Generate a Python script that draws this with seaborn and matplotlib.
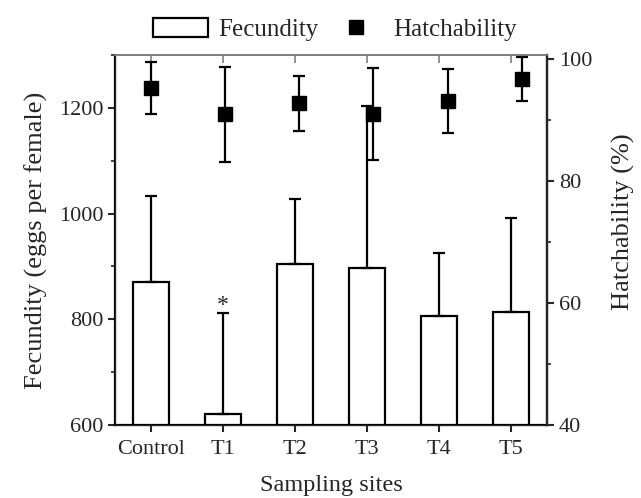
import numpy as np
import pandas as pd
import matplotlib
matplotlib.use("Agg")
import matplotlib.pyplot as plt
import seaborn as sns
from matplotlib.patches import Patch
from matplotlib.lines import Line2D
from matplotlib.ticker import MultipleLocator

sites = ["Control", "T1", "T2", "T3", "T4", "T5"]
fecundity = [871, 621, 904, 897, 806, 813]
fecundity_err = [163, 190, 123, 307, 120, 178]
hatchability = [95.2, 90.9, 92.7, 90.9, 93.1, 96.6]
hatchability_err = [4.3, 7.8, 4.5, 7.5, 5.2, 3.6]

sns.set_style("ticks")
plt.rcParams["font.family"] = ["Liberation Serif", "DejaVu Serif"]
plt.rcParams["font.size"] = 16

df = pd.DataFrame({"site": sites, "fec": fecundity})

fig = plt.figure(figsize=(6.41, 4.98), dpi=100)
ax = fig.add_axes([0.1794, 0.1466, 0.6740, 0.7430])

sns.barplot(data=df, x="site", y="fec", ax=ax, color="white", edgecolor="black",
            linewidth=1.6, width=0.5, saturation=1)
x = np.arange(len(sites))
ax.errorbar(x, fecundity, yerr=[np.zeros(len(sites)), fecundity_err], fmt="none",
            ecolor="black", elinewidth=1.6, capsize=4, capthick=1.6, zorder=3)
ax.text(1, fecundity[1] + fecundity_err[1] - 4, "*", ha="center", va="bottom", fontsize=17)

ax.set_ylim(600, 1300)
ax.set_xlim(-0.5, 5.5)
ax.yaxis.set_major_locator(MultipleLocator(200))
ax.yaxis.set_minor_locator(MultipleLocator(100))
ax.set_xlabel("Sampling sites", fontsize=17.5, labelpad=11)
ax.set_ylabel("Fecundity (eggs per female)", fontsize=19, labelpad=8)
ax.tick_params(axis="y", which="major", direction="out", length=5, width=1.5, labelsize=16)
ax.tick_params(axis="y", which="minor", direction="out", length=3, width=1.2)
ax.tick_params(axis="x", which="major", direction="out", length=5, width=1.5, labelsize=16,
               top=False, pad=6)
for s in ["left", "bottom", "right"]:
    ax.spines[s].set_linewidth(1.6)
    ax.spines[s].set_color("black")
ax.spines["top"].set_visible(True)
ax.spines["top"].set_color("#808080")
ax.spines["top"].set_linewidth(1.2)

ax2 = ax.twinx()
hx = x * 1.03
ax2.errorbar(hx, hatchability, yerr=hatchability_err, fmt="s", color="black",
             markersize=10.5, ecolor="black", elinewidth=1.6, capsize=4, capthick=1.6)
ax2.set_ylim(40, 100.6)
ax2.yaxis.set_major_locator(MultipleLocator(20))
ax2.yaxis.set_minor_locator(MultipleLocator(10))
ax2.set_ylabel("Hatchability (%)", fontsize=19)
ax2.yaxis.set_label_coords(1.15, 0.55)
ax2.tick_params(axis="y", which="major", direction="out", length=5, width=1.5, labelsize=16)
ax2.tick_params(axis="y", which="minor", direction="out", length=3, width=1.2)
ax2.spines["right"].set_linewidth(1.6)
ax2.spines["top"].set_color("#808080")
ax2.spines["top"].set_linewidth(1.2)

sec = ax.secondary_xaxis("top")
sec.set_xticks(x)
sec.tick_params(direction="in", length=6, width=1.2, color="#808080", labeltop=False)
sec.spines["top"].set_color("#808080")
sec.spines["top"].set_linewidth(1.2)

handles = [Patch(facecolor="white", edgecolor="black", linewidth=1.6),
           Line2D([], [], marker="s", color="black", linestyle="none", markersize=10)]
fig.legend(handles, ["Fecundity", "Hatchability"], loc="upper center",
           bbox_to_anchor=(0.523, 1.01), ncol=2, frameon=False, fontsize=18,
           handlelength=2.2, handleheight=0.8, columnspacing=0.4, handletextpad=0.4)

fig.savefig("out.png", dpi=100)
